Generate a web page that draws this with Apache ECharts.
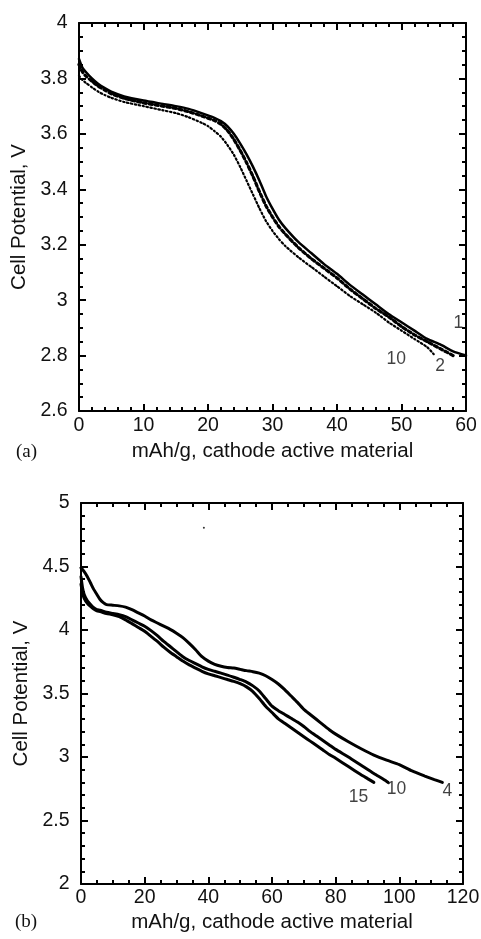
<!DOCTYPE html>
<html>
<head>
<meta charset="utf-8">
<script src="https://cdn.jsdelivr.net/npm/echarts@6/dist/echarts.min.js"></script>
<style>
  html, body { margin: 0; padding: 0; background: #fff; }
  #chart { width: 481px; height: 939px; }
</style>
</head>
<body>
<div id="chart"></div>
<script>
// panel (a): discharge curves, [mAh/g, V]
const cycle1A = [[0,3.87],[0.5,3.84],[1,3.825],[2,3.80],[3,3.78],[4,3.765],[5,3.752],[7,3.735],[10,3.72],[13,3.708],[15,3.70],[17,3.69],[19,3.675],[21,3.658],[22,3.646],[23,3.628],[24,3.60],[25,3.565],[26,3.525],[27,3.48],[28,3.43],[29,3.375],[30,3.33],[31,3.29],[32,3.26],[34,3.21],[36,3.17],[38,3.13],[40,3.095],[42,3.055],[44,3.02],[46,2.985],[48,2.95],[50,2.92],[52,2.89],[54,2.86],[56,2.84],[58,2.815],[60,2.80]];
const cycle2A = [[0,3.85],[0.5,3.825],[1,3.81],[2,3.79],[3,3.772],[4,3.758],[5,3.745],[7,3.728],[10,3.712],[13,3.70],[15,3.692],[17,3.68],[19,3.665],[21,3.648],[22,3.635],[23,3.613],[24,3.58],[25,3.54],[26,3.495],[27,3.445],[28,3.39],[29,3.34],[30,3.30],[31,3.265],[32,3.238],[34,3.19],[36,3.15],[38,3.115],[40,3.08],[42,3.04],[44,3.005],[46,2.97],[48,2.94],[50,2.905],[52,2.875],[54,2.85],[56,2.825],[58,2.80]];
const cycle10A = [[0,3.81],[0.5,3.795],[1,3.785],[2,3.768],[3,3.752],[4,3.74],[5,3.73],[7,3.715],[10,3.70],[13,3.685],[15,3.675],[17,3.66],[19,3.64],[20,3.628],[21,3.61],[22,3.59],[23,3.56],[24,3.525],[25,3.48],[26,3.43],[27,3.38],[28,3.33],[29,3.285],[30,3.25],[31,3.22],[32,3.195],[34,3.155],[36,3.12],[38,3.085],[40,3.05],[42,3.015],[44,2.985],[46,2.955],[48,2.92],[50,2.89],[52,2.86],[54,2.83],[55,2.805]];

// panel (b)
const cycle4B = [[0,4.49],[1,4.46],[2,4.42],[3,4.37],[4,4.32],[5,4.28],[6,4.24],[7,4.215],[8,4.20],[10,4.195],[12,4.19],[14,4.18],[16,4.16],[18,4.135],[20,4.11],[22,4.08],[24,4.055],[26,4.03],[28,4.005],[30,3.975],[32,3.94],[34,3.895],[36,3.845],[38,3.79],[40,3.755],[42,3.73],[44,3.715],[46,3.705],[48,3.70],[50,3.69],[52,3.68],[54,3.672],[56,3.66],[58,3.64],[60,3.61],[62,3.575],[64,3.53],[66,3.48],[68,3.43],[70,3.375],[72,3.335],[74,3.295],[76,3.255],[78,3.215],[80,3.18],[84,3.12],[88,3.065],[92,3.015],[96,2.975],[100,2.94],[104,2.89],[108,2.85],[111,2.822],[113.5,2.80]];
const cycle10B = [[0,4.42],[0.5,4.33],[1,4.28],[2,4.23],[3,4.20],[4,4.175],[5,4.16],[6,4.155],[8,4.14],[10,4.13],[12,4.12],[14,4.105],[16,4.08],[18,4.055],[20,4.03],[22,3.995],[24,3.955],[26,3.91],[28,3.87],[30,3.83],[32,3.79],[34,3.76],[36,3.735],[38,3.71],[40,3.69],[42,3.675],[44,3.66],[46,3.645],[48,3.628],[50,3.61],[52,3.59],[54,3.56],[56,3.52],[58,3.46],[60,3.40],[62,3.365],[64,3.335],[66,3.305],[68,3.275],[70,3.24],[72,3.20],[74,3.165],[76,3.13],[78,3.095],[80,3.06],[84,3.00],[88,2.935],[92,2.87],[95,2.825],[96.5,2.80]];
const cycle15B = [[0,4.36],[0.5,4.29],[1,4.25],[2,4.21],[3,4.185],[4,4.165],[5,4.15],[6,4.145],[8,4.13],[10,4.12],[12,4.105],[14,4.08],[16,4.05],[18,4.02],[20,3.99],[22,3.95],[24,3.91],[26,3.865],[28,3.825],[30,3.79],[32,3.755],[34,3.725],[36,3.70],[38,3.675],[40,3.655],[42,3.64],[44,3.625],[46,3.61],[48,3.595],[50,3.577],[52,3.552],[54,3.515],[56,3.46],[58,3.40],[60,3.35],[62,3.30],[64,3.265],[66,3.23],[68,3.195],[70,3.16],[72,3.125],[74,3.09],[76,3.055],[78,3.02],[80,2.99],[84,2.925],[88,2.86],[90,2.83],[92,2.80]];
const strayDotB = [[38.6, 4.806]];

// cycle numbers written next to the curve ends
const labelsA = [{ text: '1', x: 58.8, y: 2.917 }, { text: '2', x: 56.0, y: 2.76 }, { text: '10', x: 49.2, y: 2.787 }];
const labelsB = [{ text: '4', x: 115.1, y: 2.73 }, { text: '10', x: 99.1, y: 2.744 }, { text: '15', x: 87.2, y: 2.68 }];

const xTitle = 'mAh/g, cathode active material';
const yTitle = 'Cell Potential, V';

const FONT = '"Liberation Sans", Arial, sans-serif';
const INK = '#111';

function axis(o) {
  return {
    type: 'value',
    gridIndex: o.grid,
    position: o.position,
    min: o.min,
    max: o.max,
    interval: o.interval,
    name: o.name || '',
    nameLocation: 'middle',
    nameGap: o.nameGap || 0,
    nameRotate: o.rotate,
    nameTextStyle: { fontFamily: FONT, fontSize: 20.5, color: INK },
    axisLine: { show: true, onZero: false, lineStyle: { color: '#000', width: 2 } },
    axisTick: { show: true, inside: true, length: 7, lineStyle: { color: '#000', width: 2 } },
    minorTick: { show: true, splitNumber: o.minor, length: 4, lineStyle: { color: '#000', width: 2 } },
    axisLabel: {
      show: !!o.labels, margin: o.margin, fontFamily: FONT, fontSize: 19.5, color: INK,
      showMinLabel: true, showMaxLabel: true
    },
    splitLine: { show: false }
  };
}

function curve(data, xi, yi, type, width) {
  return {
    type: 'line', data, xAxisIndex: xi, yAxisIndex: yi,
    showSymbol: false, smooth: 0.2, silent: true,
    lineStyle: { color: '#000', width, type, cap: 'round' }
  };
}

function tags(list, xi, yi) {
  return {
    type: 'scatter', xAxisIndex: xi, yAxisIndex: yi, silent: true,
    symbolSize: 1, itemStyle: { color: 'rgba(0,0,0,0)' },
    data: list.map(l => ({ value: [l.x, l.y], name: l.text })),
    label: { show: true, position: 'inside', formatter: p => p.name, fontFamily: FONT, fontSize: 17.5, color: INK }
  };
}

const chart = echarts.init(document.getElementById('chart'), null, { renderer: 'canvas' });
chart.setOption({
  animation: false,
  backgroundColor: '#fff',
  grid: [
    { left: 79, top: 23, width: 387, height: 388, outerBoundsMode: 'none' },
    { left: 81, top: 503, width: 382, height: 381, outerBoundsMode: 'none' }
  ],
  xAxis: [
    axis({ grid: 0, position: 'bottom', min: 0, max: 60, interval: 10, minor: 5, labels: true, margin: 5, name: xTitle, nameGap: 30 }),
    axis({ grid: 0, position: 'top', min: 0, max: 60, interval: 10, minor: 5 }),
    axis({ grid: 1, position: 'bottom', min: 0, max: 120, interval: 20, minor: 4, labels: true, margin: 4, name: xTitle, nameGap: 28 }),
    axis({ grid: 1, position: 'top', min: 0, max: 120, interval: 20, minor: 4 })
  ],
  yAxis: [
    axis({ grid: 0, position: 'left', min: 2.6, max: 4, interval: 0.2, minor: 4, labels: true, margin: 11.5, name: yTitle, nameGap: 49, rotate: 90 }),
    axis({ grid: 0, position: 'right', min: 2.6, max: 4, interval: 0.2, minor: 4 }),
    axis({ grid: 1, position: 'left', min: 2, max: 5, interval: 0.5, minor: 5, labels: true, margin: 11.5, name: yTitle, nameGap: 47, rotate: 90 }),
    axis({ grid: 1, position: 'right', min: 2, max: 5, interval: 0.5, minor: 5 })
  ],
  series: [
    curve(cycle1A, 0, 0, 'solid', 2.5),
    curve(cycle2A, 0, 0, [3, 3], 3.2),
    curve(cycle10A, 0, 0, [1.5, 2.5], 2.2),
    tags(labelsA, 0, 0),
    curve(cycle4B, 2, 2, 'solid', 3),
    curve(cycle10B, 2, 2, 'solid', 3),
    curve(cycle15B, 2, 2, 'solid', 3),
    {
      type: 'scatter', xAxisIndex: 2, yAxisIndex: 2, silent: true,
      data: strayDotB, symbolSize: 2, itemStyle: { color: '#000' }
    },
    tags(labelsB, 2, 2)
  ],
  graphic: [
    { type: 'text', left: 16, top: 443, style: { text: '(a)', font: '19px "Liberation Serif", "Times New Roman", serif', fill: INK } },
    { type: 'text', left: 15, top: 913, style: { text: '(b)', font: '19px "Liberation Serif", "Times New Roman", serif', fill: INK } }
  ]
});
</script>
</body>
</html>
